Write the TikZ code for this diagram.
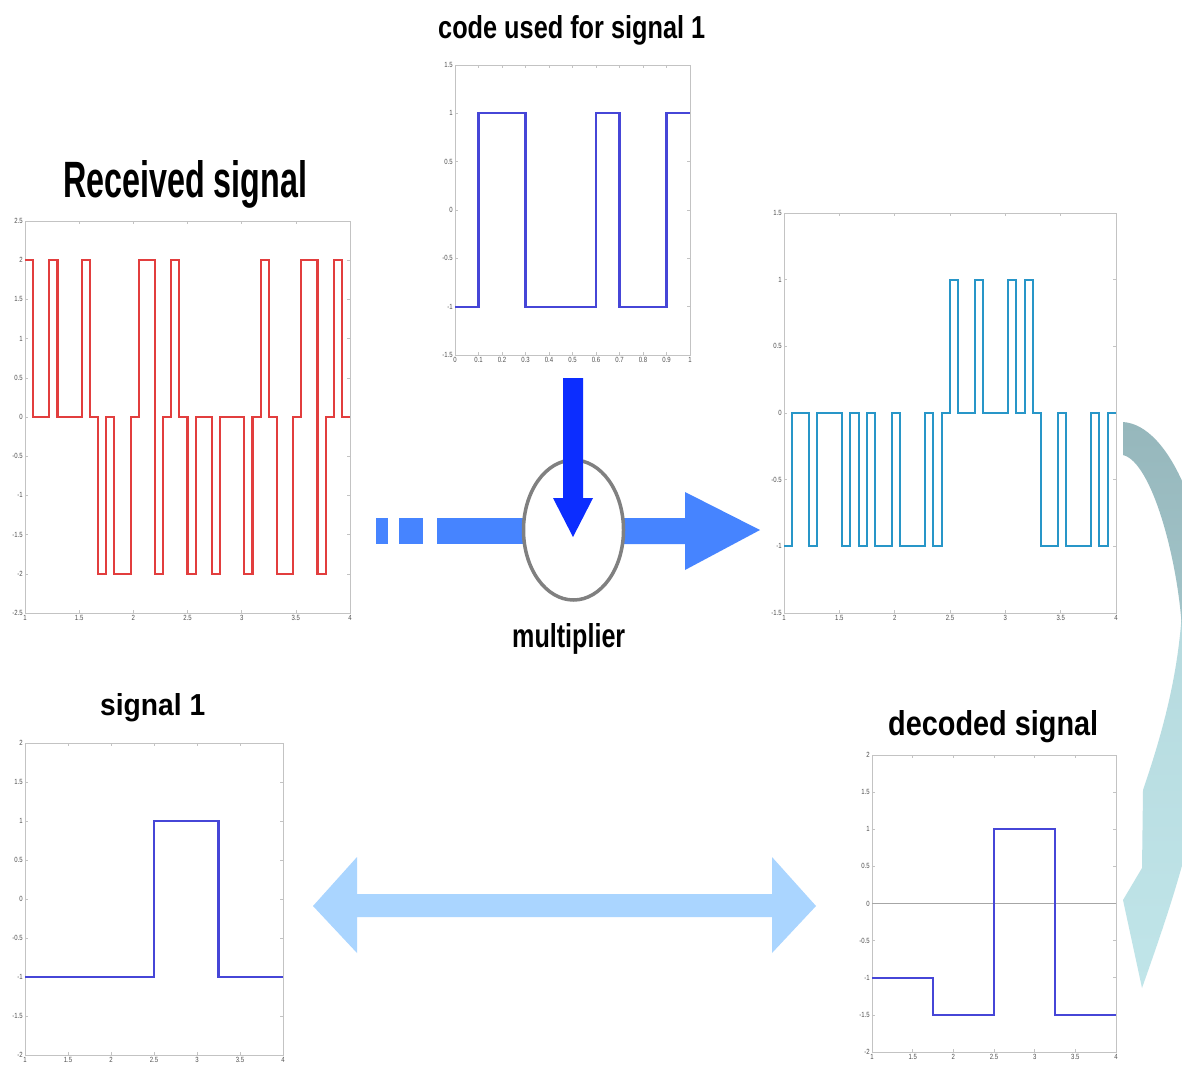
\documentclass[tikz,border=0pt]{standalone}
\usepackage{fontspec}
\setmainfont{Liberation Sans}
\newfontfamily\tickfont[FakeStretch=0.8]{Liberation Sans}
\usetikzlibrary{shapes.geometric}
\definecolor{redsig}{RGB}{226,62,62}
\definecolor{bluesig}{RGB}{70,70,215}
\definecolor{cyansig}{RGB}{40,150,200}
\definecolor{boxgray}{RGB}{195,195,195}
\definecolor{tickgray}{RGB}{80,80,80}
\definecolor{flowblue}{RGB}{70,132,255}
\definecolor{downblue}{RGB}{12,45,255}
\definecolor{lightblue}{RGB}{170,213,255}
\definecolor{tealtop}{RGB}{150,183,188}
\definecolor{tealbot}{RGB}{192,229,233}
\tikzset{
  boxline/.style={draw=boxgray, line width=0.9pt},
  tickline/.style={draw=boxgray, line width=0.6pt},
  ticklab/.style={font=\tickfont\fontsize{7.5}{8}\selectfont, text=tickgray, inner sep=0.5pt},
  sigline/.style={line width=2.1pt, line join=miter},
  title/.style={anchor=base west, inner sep=0pt, text=black},
}
% #1 xmin #2 xmax #3 ymin #4 ymax #5 xlist #6 ylist #7 prefix
\newcommand\myaxes[7]{%
  \draw[boxline] (#1,#3) rectangle (#2,#4);
  \foreach \t [count=\i] in {#5}{%
    \draw[tickline] (\t,#3) -- ++(0pt,3pt);
    \draw[tickline] (\t,#4) -- ++(0pt,-3pt);
    \node[ticklab,anchor=north] (#7x\i) at ([yshift=-2pt]\t,#3) {\t};
  }
  \foreach \t [count=\i] in {#6}{%
    \draw[tickline] (#1,\t) -- ++(3pt,0pt);
    \draw[tickline] (#2,\t) -- ++(-3pt,0pt);
    \node[ticklab,anchor=east] (#7y\i) at ([xshift=-1.5pt]#1,\t) {\t};
  }
}
\begin{document}
\begin{tikzpicture}[x=1pt,y=-1pt]
\useasboundingbox (0,0) rectangle (1182,1068);
\fill[white] (0,0) rectangle (1182,1068);

% ---------- Received signal plot
\begin{scope}[shift={(-83.333,417)}, x={(108.333pt,0pt)}, y={(0pt,78.4pt)}]
  \myaxes{1}{4}{-2.5}{2.5}{1,1.5,2,2.5,3,3.5,4}{-2.5,-2,-1.5,-1,-0.5,0,0.5,1,1.5,2,2.5}{ra}
  \draw[sigline, redsig] plot[const plot] coordinates {(1,2)(1.075,0)(1.225,2)(1.3,0)(1.525,2)(1.6,0)(1.675,-2)(1.75,0)(1.825,-2)(1.975,0)(2.05,2)(2.2,-2)(2.275,0)(2.35,2)(2.425,0)(2.5,-2)(2.575,0)(2.725,-2)(2.8,0)(3.025,-2)(3.1,0)(3.175,2)(3.25,0)(3.325,-2)(3.475,0)(3.55,2)(3.7,-2)(3.775,0)(3.85,2)(3.925,0)(4,0)};
\end{scope}

% ---------- Code plot
\begin{scope}[shift={(455,210)}, x={(235pt,0pt)}, y={(0pt,96.667pt)}]
  \myaxes{0}{1}{-1.5}{1.5}{0,0.1,0.2,0.3,0.4,0.5,0.6,0.7,0.8,0.9,1}{-1.5,-1,-0.5,0,0.5,1,1.5}{ca}
  \draw[sigline, bluesig] plot[const plot] coordinates {(0,-1)(0.1,1)(0.3,-1)(0.6,1)(0.7,-1)(0.9,1)(1,1)};
\end{scope}

% ---------- Product plot
\begin{scope}[shift={(673.333,413)}, x={(110.667pt,0pt)}, y={(0pt,133.333pt)}]
  \myaxes{1}{4}{-1.5}{1.5}{1,1.5,2,2.5,3,3.5,4}{-1.5,-1,-0.5,0,0.5,1,1.5}{pa}
  \draw[sigline, cyansig] plot[const plot] coordinates {(1,-1)(1.075,0)(1.225,-1)(1.3,0)(1.525,-1)(1.6,0)(1.675,-1)(1.75,0)(1.825,-1)(1.975,0)(2.05,-1)(2.275,0)(2.35,-1)(2.425,0)(2.5,1)(2.575,0)(2.725,1)(2.8,0)(3.025,1)(3.1,0)(3.175,1)(3.25,0)(3.325,-1)(3.475,0)(3.55,-1)(3.775,0)(3.85,-1)(3.925,0)(4,0)};
\end{scope}

% ---------- Signal 1 plot
\begin{scope}[shift={(-61,899)}, x={(86pt,0pt)}, y={(0pt,78pt)}]
  \myaxes{1}{4}{-2}{2}{1,1.5,2,2.5,3,3.5,4}{-2,-1.5,-1,-0.5,0,0.5,1,1.5,2}{sa}
  \draw[sigline, bluesig] plot[const plot] coordinates {(1,-1)(2.5,1)(3.25,-1)(4,-1)};
\end{scope}

% ---------- Decoded plot
\begin{scope}[shift={(790.667,903.5)}, x={(81.333pt,0pt)}, y={(0pt,74.25pt)}]
  \myaxes{1}{4}{-2}{2}{1,1.5,2,2.5,3,3.5,4}{-2,-1.5,-1,-0.5,0,0.5,1,1.5,2}{da}
  \draw[draw=gray!70, line width=1.1pt] (1,0) -- (4,0);
  \draw[sigline, bluesig] plot[const plot] coordinates {(1,-1)(1.75,-1.5)(2.5,1)(3.25,-1.5)(4,-1.5)};
\end{scope}

% ---------- Titles
\node[title] (trec) at (63,197) {\resizebox{244pt}{37pt}{\bfseries Received signal}};
\node[title] (tcode) at (438,38) {\resizebox{267pt}{23pt}{\bfseries code used for signal 1}};
\node[title] (tmult) at (512,647) {\resizebox{113pt}{24pt}{\bfseries multiplier}};
\node[title] (tsig) at (100,715) {\resizebox{105pt}{22pt}{\bfseries signal 1}};
\node[title] (tdec) at (888,735) {\resizebox{210pt}{25pt}{\bfseries decoded signal}};

% ---------- Flow arrows around the multiplier
\fill[flowblue] (376,518) rectangle (388,544);
\fill[flowblue] (399,518) rectangle (423,544);
\fill[flowblue] (437,518) rectangle (570,544);
\fill[flowblue] (575,518) -- (685,518) -- (685,492) -- (760,530) -- (685,570) -- (685,544) -- (575,544) -- cycle;
\node[ellipse, draw=gray, line width=3.5pt, fill=white, minimum width=100pt, minimum height=140pt, inner sep=0pt] (mult) at (573.5,530) {};
\fill[downblue] (563,378) -- (583,378) -- (583,498) -- (593,498) -- (573,537) -- (553,498) -- (563,498) -- cycle;

% ---------- Double arrow
\fill[lightblue] (313,906) -- (357,857) -- (357,894) -- (772,894) -- (772,857) -- (816,906) -- (772,953) -- (772,917) -- (357,917) -- (357,953) -- cycle;

% ---------- Curved arrow (right edge)
\begin{scope}
  \clip (0,0) rectangle (1182,1068);
  \shade[top color=tealbot!75!tealtop, bottom color=tealbot]
    (1215,620) .. controls (1215,780) and (1180,880) .. (1142,988) -- (1123,900) -- (1142,868) -- (1143,790)
    .. controls (1160,740) and (1178,680) .. (1182,610) -- cycle;
  \shade[top color=tealtop, bottom color=tealtop!70!tealbot]
    (1123,422) .. controls (1170,425) and (1210,520) .. (1215,640) -- (1182,630)
    .. controls (1178,560) and (1152,462) .. (1123,455) -- cycle;
\end{scope}
\end{tikzpicture}
\end{document}
